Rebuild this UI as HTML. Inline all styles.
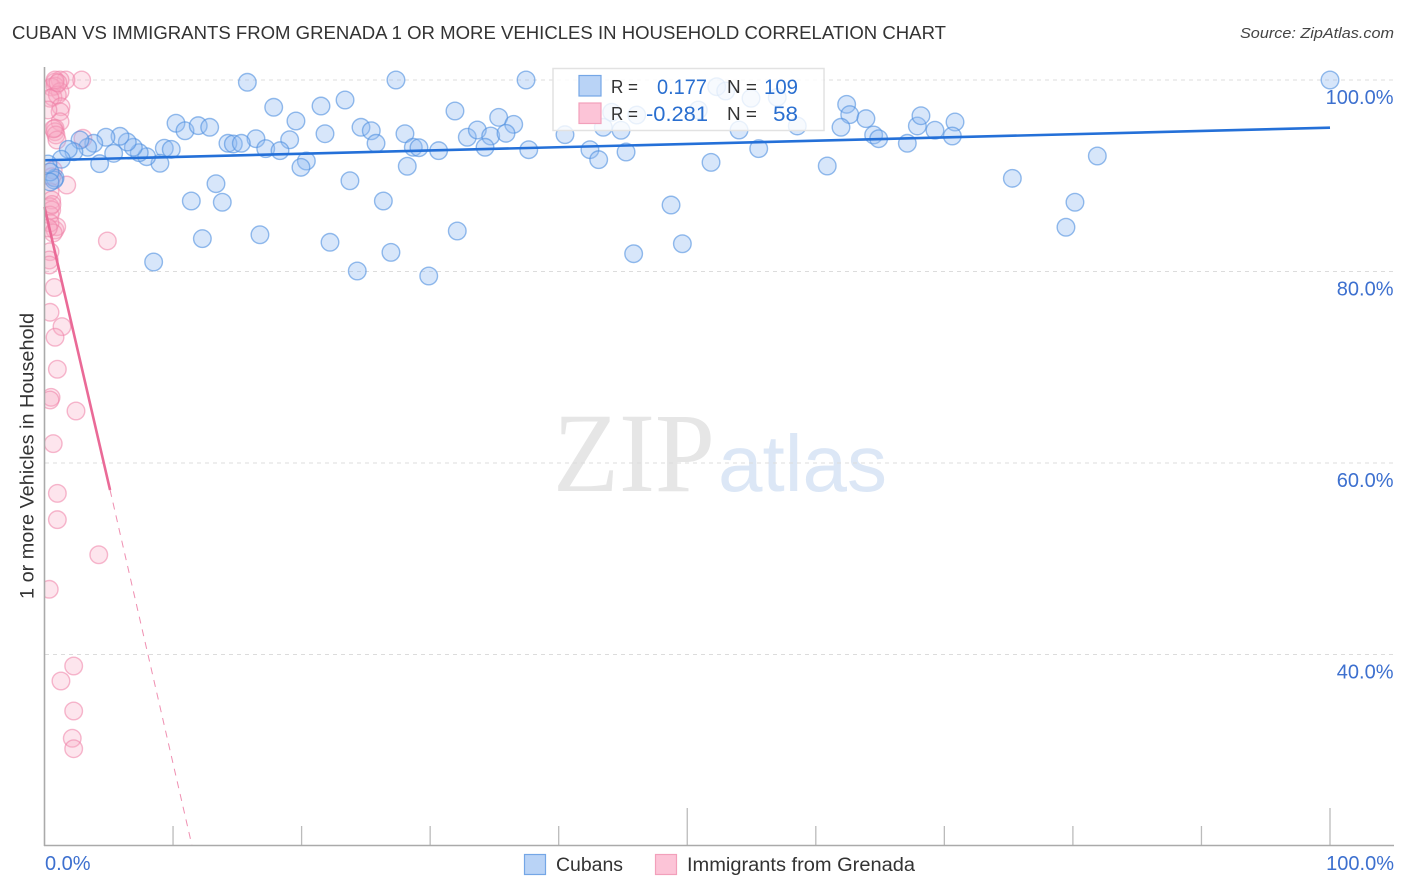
<!DOCTYPE html>
<html lang="en">
<head>
<meta charset="utf-8">
<title>Cuban vs Immigrants from Grenada correlation chart</title>
<style>
html,body{margin:0;padding:0;background:#fff;width:1406px;height:892px;overflow:hidden}
svg{display:block;font-family:"Liberation Sans",sans-serif}
</style>
</head>
<body>
<svg id="chart" width="1406" height="892" viewBox="0 0 1406 892" xmlns="http://www.w3.org/2000/svg">
  <defs>
    <clipPath id="plot-clip"><rect x="45" y="60" width="1361" height="786"/></clipPath>
  </defs>
  <rect x="0" y="0" width="1406" height="892" fill="#fff"/>
  <text x="12" y="39" font-size="18.5" fill="#333" textLength="934" lengthAdjust="spacingAndGlyphs">CUBAN VS IMMIGRANTS FROM GRENADA 1 OR MORE VEHICLES IN HOUSEHOLD CORRELATION CHART</text>
  <text x="1394" y="38" font-size="15" font-style="italic" fill="#444" text-anchor="end" textLength="154" lengthAdjust="spacingAndGlyphs">Source: ZipAtlas.com</text>
  <g id="watermark">
    <text x="553" y="491" font-family="'Liberation Serif',serif" font-size="113" fill="#e6e6e6" textLength="162" lengthAdjust="spacingAndGlyphs">ZIP</text>
    <text x="718" y="491" font-size="80" fill="#dce7f6" textLength="169" lengthAdjust="spacingAndGlyphs">atlas</text>
  </g>
  <g id="grid"></g>
  <g id="pink-points" clip-path="url(#plot-clip)"></g>
  <g id="blue-points" clip-path="url(#plot-clip)"></g>
  <g id="trends"></g>
  <g id="axes"></g>
  <text transform="translate(33.5,456) rotate(-90)" font-size="19" fill="#333" text-anchor="middle" textLength="286" lengthAdjust="spacingAndGlyphs">1 or more Vehicles in Household</text>
  <g>
    <rect x="553" y="68.5" width="271" height="62" fill="#fff" fill-opacity="0.8" stroke="#e2e2e2" stroke-width="1.5"/>
    <rect x="579" y="75.5" width="22" height="20.5" fill="#b9d3f6" stroke="#74a6e6" stroke-width="1.2"/>
    <rect x="579" y="103" width="22" height="20.5" fill="#fcc4d7" stroke="#f2a0bb" stroke-width="1.2"/>
    <text x="611" y="93" font-size="18.5" fill="#333" textLength="27" lengthAdjust="spacingAndGlyphs">R =</text>
    <text x="707" y="94" font-size="21.5" fill="#2a6fd0" text-anchor="end" textLength="50" lengthAdjust="spacingAndGlyphs">0.177</text>
    <text x="727" y="93" font-size="18.5" fill="#333" textLength="30" lengthAdjust="spacingAndGlyphs">N =</text>
    <text x="798" y="94" font-size="21.5" fill="#2a6fd0" text-anchor="end" textLength="34" lengthAdjust="spacingAndGlyphs">109</text>
    <text x="611" y="120" font-size="18.5" fill="#333" textLength="27" lengthAdjust="spacingAndGlyphs">R =</text>
    <text x="708" y="121" font-size="21.5" fill="#2a6fd0" text-anchor="end" textLength="62" lengthAdjust="spacingAndGlyphs">-0.281</text>
    <text x="727" y="120" font-size="18.5" fill="#333" textLength="30" lengthAdjust="spacingAndGlyphs">N =</text>
    <text x="798" y="121" font-size="21.5" fill="#2a6fd0" text-anchor="end" textLength="25" lengthAdjust="spacingAndGlyphs">58</text>
  </g>
  <g>
    <rect x="524.5" y="854.5" width="21" height="20" fill="#b9d3f6" stroke="#74a6e6" stroke-width="1.2"/>
    <text x="556" y="871" font-size="19" fill="#333" textLength="67" lengthAdjust="spacingAndGlyphs">Cubans</text>
    <rect x="655.5" y="854.5" width="21" height="20" fill="#fcc4d7" stroke="#f2a0bb" stroke-width="1.2"/>
    <text x="687" y="871" font-size="19" fill="#333" textLength="228" lengthAdjust="spacingAndGlyphs">Immigrants from Grenada</text>
  </g>
</svg>
<script>
// Axis tick values
const yTicks = [100, 80, 60, 40];
const yTickLabels = ["100.0%", "80.0%", "60.0%", "40.0%"];
const xTicks = [10, 20, 30, 40, 50, 60, 70, 80, 90, 100];
const xMajorTicks = [50, 100];
const xEndValues = [0, 100];
const xEndLabels = ["0.0%", "100.0%"];

// Cubans series (percent values)
const cubanX = [15.78,17.83,21.51,23.38,19.56,21.82,19.07,16.45,17.21,18.32,20.37,19.95,23.76,13.34,11.42,13.83,12.28,16.76,22.21,8.49,10.23,10.93,11.96,12.85,14.27,14.69,15.31,9.32,9.86,8.98,7.95,7.37,6.91,6.44,5.87,5.38,4.78,4.29,3.83,3.36,2.76,2.29,1.85,1.31,0.82,0.74,0.27,0.43,0.43,27.34,37.46,31.93,24.62,25.42,25.79,28.04,28.69,29.13,28.22,30.66,26.36,32.11,26.95,24.33,29.89,32.89,33.67,34.71,35.33,36.50,35.90,34.27,37.67,40.49,42.43,43.11,45.24,43.47,44.85,48.74,49.62,45.83,44.12,46.07,52.29,52.99,54.96,57.00,50.86,54.03,58.56,62.40,62.64,61.96,63.90,64.50,64.89,67.12,67.90,68.18,69.27,70.83,70.62,55.56,51.85,60.89,75.29,81.90,80.16,79.46,100];
const cubanY = [99.76,97.15,97.28,97.91,95.72,94.39,93.76,93.87,92.83,92.62,91.54,90.88,89.48,89.17,87.36,87.23,83.43,83.84,83.05,80.99,95.48,94.70,95.23,95.06,93.39,93.32,93.39,92.87,92.76,91.30,91.99,92.41,92.97,93.52,94.12,92.34,94.02,91.26,93.39,92.97,93.73,92.51,92.76,91.72,89.76,89.56,91.23,90.39,89.35,100,100,96.76,95.06,94.70,93.39,94.39,92.97,92.93,90.99,92.62,87.36,84.23,82.00,80.05,79.53,94.02,94.78,94.15,96.10,95.37,94.43,92.97,92.72,94.29,92.72,91.68,92.48,95.06,94.75,86.94,82.90,81.86,96.63,96.34,99.30,98.85,98.09,98.19,96.87,94.78,95.20,97.46,96.38,95.06,95.96,94.26,93.87,93.39,95.20,96.27,94.75,95.61,94.15,92.83,91.40,91.02,89.73,92.06,87.23,84.62,100];

// Immigrants from Grenada series (percent values)
const grenadaX = [2.89,1.67,1.21,0.82,0.82,0.56,1.21,0.66,1.00,0.43,1.28,1.21,1.21,0.82,0.82,0.89,0.97,2.99,0.68,0.56,1.73,0.43,0.56,0.43,0.56,0.43,0.82,0.95,0.43,0.68,0.30,4.89,0.43,0.37,0.37,0.76,0.43,1.36,0.82,1.00,0.51,0.43,2.45,0.68,1.00,1.00,4.22,0.37,2.27,1.28,2.27,2.16,2.27,0.82,0.27,1.05,0.58,0.70];
const grenadaY = [100,100,100,99.79,99.37,99.27,98.78,98.22,98.43,98.09,97.21,96.69,95.64,94.96,94.60,94.26,93.73,93.91,90.60,89.90,89.03,88.33,87.47,86.77,86.42,85.90,84.33,84.68,85.07,84.02,84.55,83.19,82.07,81.20,80.68,78.33,75.74,74.24,73.13,69.79,66.86,66.58,65.43,62.02,56.83,54.08,50.42,46.81,38.80,37.23,34.10,31.25,30.16,100,96.87,99.70,87.00,94.90];

// Trend line values
const cubanTrendX = [0, 100];
const cubanTrendY = [91.62, 95.02];
const grenadaSolidX = [0, 5.1];
const grenadaSolidY = [86.74, 57.18];
const grenadaDashX = [5.1, 11.47];
const grenadaDashY = [57.18, 20.05];

const NS = "http://www.w3.org/2000/svg";
function xPos(v){ return 44.5 + v * 12.855; }
function yPos(v){ return 80 + (100 - v) * 9.575; }
function make(tag, attrs, parent){
  const el = document.createElementNS(NS, tag);
  for (const k in attrs) el.setAttribute(k, attrs[k]);
  parent.appendChild(el);
  return el;
}

const grid = document.getElementById("grid");
const axes = document.getElementById("axes");
const pinkG = document.getElementById("pink-points");
const blueG = document.getElementById("blue-points");
const trends = document.getElementById("trends");

yTicks.forEach(function(t, i){
  const line = make("line", {x1:45, x2:1393, y1:yPos(t), y2:yPos(t), stroke:"#dcdcdc", "stroke-width":1, "stroke-dasharray":"4 4"}, grid);
  
  
  const label = make("text", {x:1393.5, y:yPos(t)+24, "font-size":20, fill:"#3d70cf", "text-anchor":"end"}, axes);
  label.textContent = yTickLabels[i];
  
  
});

xTicks.forEach(function(t){
  const major = xMajorTicks.indexOf(t) >= 0;
  const tick = make("line", {x1:xPos(t), x2:xPos(t), y1:major ? 808 : 826, y2:845, stroke:"#bbb", "stroke-width":1.3}, axes);
  
  
});

xEndValues.forEach(function(t, i){
  const label = make("text", {x:i === 0 ? 45 : 1394, y:870, "font-size":20, fill:"#3d70cf", "text-anchor":i === 0 ? "start" : "end"}, axes);
  label.textContent = xEndLabels[i];
  
  
});

const yAxisLine = make("line", {x1:44.5, x2:44.5, y1:67, y2:846, stroke:"#aaa", "stroke-width":1.6}, axes);


const xAxisLine = make("line", {x1:44, x2:1394, y1:845.5, y2:845.5, stroke:"#aaa", "stroke-width":1.6}, axes);



grenadaX.forEach(function(v, i){
  const c = make("circle", {cx:xPos(v), cy:yPos(grenadaY[i]), r:8.8, fill:"#f9a8c4", "fill-opacity":0.3, stroke:"#ee7fa6", "stroke-opacity":0.55, "stroke-width":1.4}, pinkG);
  
  
});

cubanX.forEach(function(v, i){
  const c = make("circle", {cx:xPos(v), cy:yPos(cubanY[i]), r:8.8, fill:"#90bbf0", "fill-opacity":0.36, stroke:"#4f8fe0", "stroke-opacity":0.6, "stroke-width":1.4}, blueG);
  
  
});

const cubanTrend = make("line", {x1:xPos(cubanTrendX[0]), x2:xPos(cubanTrendX[1]), y1:yPos(cubanTrendY[0]), y2:yPos(cubanTrendY[1]), stroke:"#2470d8", "stroke-width":2.6}, trends);


const grenadaSolid = make("line", {x1:xPos(grenadaSolidX[0]), x2:xPos(grenadaSolidX[1]), y1:yPos(grenadaSolidY[0]), y2:yPos(grenadaSolidY[1]), stroke:"#ea6a97", "stroke-width":2.6}, trends);


const grenadaDash = make("line", {x1:xPos(grenadaDashX[0]), x2:xPos(grenadaDashX[1]), y1:yPos(grenadaDashY[0]), y2:yPos(grenadaDashY[1]), stroke:"#ea6a97", "stroke-opacity":0.75, "stroke-width":1, "stroke-dasharray":"7 6"}, trends);


</script>
</body>
</html>
